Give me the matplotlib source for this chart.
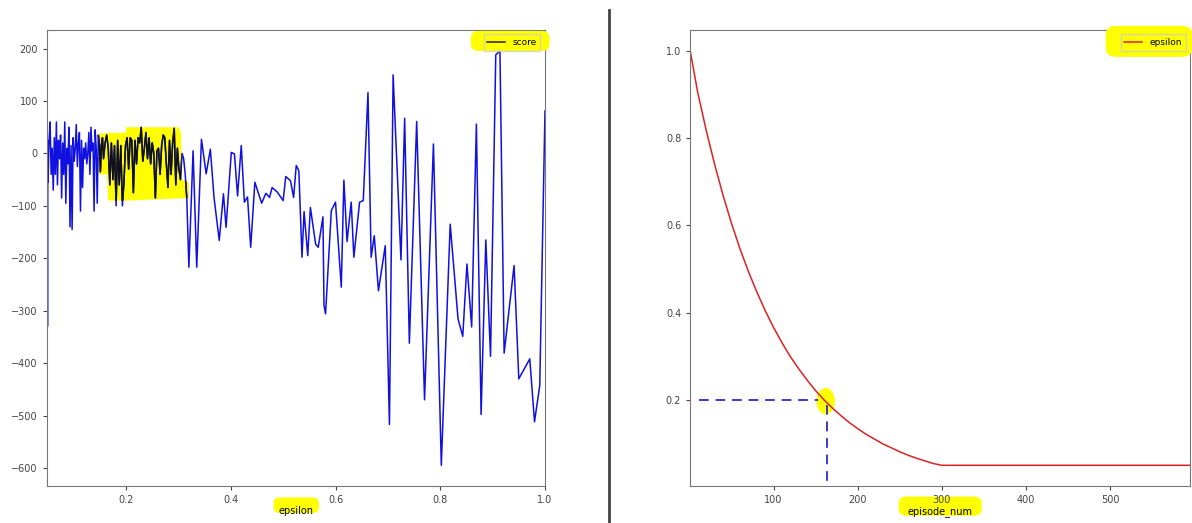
import matplotlib
matplotlib.use("Agg")
import matplotlib.pyplot as plt
from matplotlib.patches import FancyBboxPatch, Polygon, Ellipse
from matplotlib.lines import Line2D

# score vs epsilon (vertices, episode order: eps falls from 1.0)
eps_sparse = [1.0, 0.99, 0.98, 0.971, 0.95, 0.941, 0.922, 0.914, 0.906, 0.896, 0.887,
              0.878, 0.869, 0.86, 0.851, 0.843, 0.834, 0.819, 0.802, 0.787, 0.77,
              0.755, 0.741, 0.732, 0.725, 0.71, 0.703, 0.695, 0.682, 0.674, 0.668,
              0.662, 0.653, 0.646, 0.635, 0.63, 0.622, 0.616, 0.611, 0.6, 0.592,
              0.581, 0.578, 0.576, 0.567, 0.562, 0.552, 0.547, 0.54, 0.536, 0.53,
              0.525, 0.52, 0.514, 0.505, 0.5, 0.489, 0.479, 0.474, 0.467, 0.459,
              0.446, 0.438, 0.432, 0.426, 0.42, 0.413, 0.407, 0.401, 0.391, 0.386,
              0.378, 0.368, 0.361, 0.353, 0.344, 0.335, 0.328, 0.32]
score_sparse = [81, -443, -512, -392, -430, -214, -381, 196, 188, -387, -165,
                -498, 56, -331, -211, -349, -316, -135, -595, 18, -470,
                61, -362, 67, -203, 150, -517, -176, -262, -157, -198,
                116, -90, -93, -198, -93, -168, -51, -255, -93, -109,
                -306, -290, -121, -179, -173, -103, -195, -111, -198, -33,
                -23, -84, -52, -44, -90, -74, -65, -84, -76, -95,
                -55, -179, -83, -93, 15, -81, -1, 2, -141, -77,
                -166, -84, 8, -39, 27, -217, 5, -217]

eps_dense = [0.316, 0.313, 0.310, 0.307, 0.304, 0.301, 0.298, 0.295, 0.292, 0.289,
             0.286, 0.283, 0.280, 0.277, 0.274, 0.271, 0.268, 0.265, 0.262, 0.259,
             0.256, 0.253, 0.250, 0.247, 0.244, 0.241, 0.238, 0.235, 0.232, 0.229,
             0.226, 0.223, 0.220, 0.217, 0.214, 0.211, 0.208, 0.205, 0.202, 0.199,
             0.196, 0.193, 0.190, 0.187, 0.184, 0.181, 0.178, 0.175, 0.172, 0.169,
             0.166, 0.163, 0.160, 0.157, 0.155, 0.153, 0.151, 0.149, 0.147, 0.145,
             0.143, 0.141, 0.139, 0.137, 0.135, 0.133, 0.131, 0.129, 0.127, 0.125,
             0.123, 0.121, 0.119, 0.117, 0.115, 0.113, 0.111, 0.109, 0.107, 0.105,
             0.103, 0.101, 0.099, 0.097, 0.095, 0.093, 0.091, 0.089, 0.087, 0.085,
             0.083, 0.081, 0.079, 0.077, 0.075, 0.073, 0.071, 0.069, 0.067, 0.065,
             0.063, 0.061, 0.059, 0.057, 0.055, 0.053, 0.051, 0.05]
score_dense = [-85, -40, -10, 0, -50, -30, 10, -60, 48, 20,
               -40, 25, -65, -20, 30, 35, 15, -40, 10, 5,
               -85, 0, 20, -20, 30, -10, 40, 10, -15, 50,
               20, 30, -20, 25, -75, 25, 30, -30, 30, 15,
               -55, -100, 15, -60, 25, -100, 15, -50, 20, -60,
               10, 35, 20, -10, 30, 15, -35, 20, 35, -95,
               10, 45, -110, 20, 5, 50, -40, 40, 0, -20,
               20, -10, 10, -65, 25, -110, 40, 20, -25, 55,
               10, -15, 30, -145, 15, -140, 50, -20, 10, -95,
               60, -40, 20, -85, 35, -10, 25, -60, 60, -40,
               30, -70, 10, -40, 60, 25, -55, 20]

# episodes after the floor is reached: all at eps = 0.05
eps_floor = [0.05, 0.05, 0.05, 0.05, 0.05, 0.05, 0.05]
score_floor = [-180, 10, -330, 25, -50, 0, 20]

# epsilon schedule (right chart)
episodes = [1, 10, 20, 30, 40, 50, 60, 70, 80, 90, 100, 110, 120, 130, 140, 150,
            160, 170, 180, 190, 200, 210, 220, 230, 240, 250, 260, 270, 280, 290,
            300, 595]
epsilon = [1.0, 0.904, 0.818, 0.740, 0.669, 0.605, 0.547, 0.495, 0.448, 0.405,
           0.366, 0.331, 0.299, 0.271, 0.245, 0.221, 0.200, 0.181, 0.164, 0.148,
           0.134, 0.121, 0.110, 0.099, 0.090, 0.081, 0.073, 0.066, 0.060, 0.054,
           0.050, 0.050]

mark_episode = 163
mark_eps = 0.2

eps_all = eps_sparse + eps_dense + eps_floor
score_all = score_sparse + score_dense + score_floor

YELLOW = "#ffff00"
plt.rcParams["font.family"] = ["DejaVu Sans"]

fig = plt.figure(figsize=(11.92, 5.23), dpi=100)
ax1 = fig.add_axes([0.0394, 0.0707, 0.4178, 0.872])
ax2 = fig.add_axes([0.579, 0.0707, 0.4195, 0.872])

for ax in (ax1, ax2):
    for s in ax.spines.values():
        s.set_color("#777777")
    ax.tick_params(labelsize=7, colors="#444444", length=3, width=0.8)

# left chart
hl = Polygon([(0.148, 38), (0.2, 40), (0.2, 50), (0.3, 50), (0.305, 40), (0.306, -50),
              (0.32, -55), (0.32, -85), (0.2, -90), (0.166, -90), (0.164, -40),
              (0.148, -40)], closed=True, facecolor=YELLOW, edgecolor="none", zorder=1)
ax1.add_patch(hl)
line, = ax1.plot(eps_all, score_all, color="#1010e0", lw=1.1, label="score", zorder=2)
dark, = ax1.plot(eps_all, score_all, color="#111111", lw=1.1, zorder=3)
dark.set_clip_path(hl)
ax1.set_xlim(min(eps_all) - 0.001, max(eps_all))
pad1 = 0.05 * (max(score_all) - min(score_all))
ax1.set_ylim(min(score_all) - pad1, max(score_all) + pad1)
ax1.set_xlabel("epsilon", fontsize=7, labelpad=1)
leg1 = ax1.legend(loc="upper right", fontsize=6.5, facecolor="none", edgecolor="#cccccc",
                  fancybox=False, handlelength=2)
leg1.get_lines()[0].set_color("#222222")
ax1.add_patch(FancyBboxPatch((0.855, 0.958), 0.15, 0.036,
                             boxstyle="round,pad=0.004,rounding_size=0.015",
                             transform=ax1.transAxes, facecolor=YELLOW, edgecolor="none",
                             clip_on=False, zorder=4))
ax1.add_patch(FancyBboxPatch((0.458, -0.056), 0.085, 0.028,
                             boxstyle="round,pad=0.003,rounding_size=0.012",
                             transform=ax1.transAxes, facecolor=YELLOW, edgecolor="none",
                             clip_on=False, zorder=1))

# right chart
ax2.plot(episodes, epsilon, color="#dd2222", lw=1.1, label="epsilon", zorder=2)
ax2.set_xlim(episodes[0], episodes[-1])
pad2 = 0.05 * (max(epsilon) - min(epsilon))
ax2.set_ylim(min(epsilon) - pad2, max(epsilon) + pad2)
ax2.set_xlabel("episode_num", fontsize=7, labelpad=1)
ax2.add_patch(Ellipse((mark_episode - 1, mark_eps - 0.003), 22, 0.06,
                      facecolor=YELLOW, edgecolor="none", zorder=1.5))
ax2.plot([12, mark_episode - 10], [mark_eps, mark_eps], color="#3a3ac8", lw=1.4,
         dashes=(5, 3.5), zorder=3)
ax2.plot([mark_episode, mark_episode], [mark_eps - 0.012, 0.0], color="#3a3ac8", lw=1.4,
         dashes=(5, 3.5), zorder=3, clip_on=False)
leg2 = ax2.legend(loc="upper right", fontsize=6.5, facecolor="none", edgecolor="#cccccc",
                  fancybox=False, handlelength=2)
ax2.add_patch(FancyBboxPatch((0.835, 0.945), 0.165, 0.06,
                             boxstyle="round,pad=0.004,rounding_size=0.02",
                             transform=ax2.transAxes, facecolor=YELLOW, edgecolor="none",
                             clip_on=False, zorder=4))
ax2.add_patch(FancyBboxPatch((0.42, -0.062), 0.16, 0.036,
                             boxstyle="round,pad=0.003,rounding_size=0.015",
                             transform=ax2.transAxes, facecolor=YELLOW, edgecolor="none",
                             clip_on=False, zorder=1))

# separator between the two screenshots
fig.add_artist(Line2D([609 / 1192, 609 / 1192], [0, 1 - 10 / 523],
                      transform=fig.transFigure, color="#444444", lw=2))

fig.savefig("out.png", dpi=100)
